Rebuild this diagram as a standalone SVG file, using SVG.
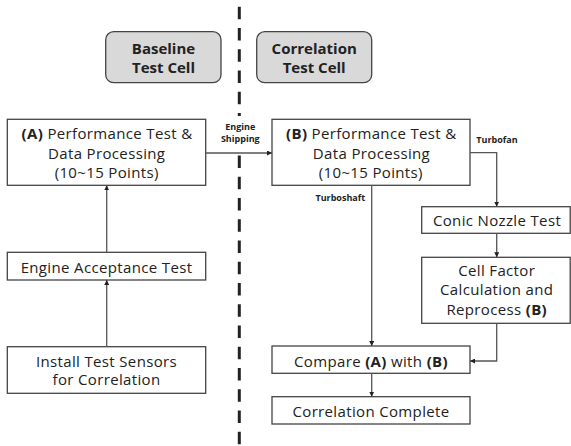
<svg xmlns="http://www.w3.org/2000/svg" width="571" height="446" viewBox="0 0 571 446">
<style>
.box{fill:#fff;stroke:#444;stroke-width:1.3}
.hdr{fill:#d9d9d9;stroke:#444;stroke-width:1.3}
.t{font-family:"Open Sans","Noto Sans",sans-serif;font-size:15px;letter-spacing:0.35px;fill:#222;text-anchor:middle}
.h{font-family:"Open Sans","Noto Sans",sans-serif;font-size:15px;font-weight:bold;fill:#222;text-anchor:middle}
.s{font-family:"Open Sans","Noto Sans",sans-serif;font-size:9px;font-weight:bold;fill:#222;text-anchor:middle}
.b{font-weight:bold}
.c{fill:none;stroke:#555;stroke-width:1.3}
</style>
<defs>
<marker id="ah" viewBox="0 0 10 10" refX="10" refY="5" markerWidth="5" markerHeight="5" markerUnits="userSpaceOnUse" orient="auto">
<path d="M0,0 L10,5 L0,10 Z" fill="#222"/>
</marker>
</defs>
<rect width="571" height="446" fill="#fff"/>
<g id="divider">
<line x1="239.3" y1="6.7" x2="239.3" y2="116" stroke="#222" stroke-width="3" stroke-dasharray="12.5 8.75"/>
<line x1="239.3" y1="155.45" x2="239.3" y2="445" stroke="#222" stroke-width="3" stroke-dasharray="12.5 8.75"/>
</g>
<g id="baseline-cell">
<rect class="hdr" x="105.7" y="31.7" width="115.3" height="51" rx="8"/>
<text class="h" x="163.5" y="54">Baseline</text>
<text class="h" x="163.5" y="72.7">Test Cell</text>
</g>
<g id="correlation-cell">
<rect class="hdr" x="256.7" y="31.7" width="115" height="51" rx="8"/>
<text class="h" x="314.2" y="54">Correlation</text>
<text class="h" x="314.2" y="72.7">Test Cell</text>
</g>
<g id="perfA">
<rect class="box" x="7.3" y="119.3" width="198.4" height="66"/>
<text class="t" x="107" y="139"><tspan class="b">(A)</tspan> Performance Test &amp;</text>
<text class="t" x="106.7" y="159">Data Processing</text>
<text class="t" x="106.7" y="178">(10~15 Points)</text>
</g>
<g id="acceptance">
<rect class="box" x="7.3" y="252.3" width="198.4" height="27.7"/>
<text class="t" x="106.5" y="272.7">Engine Acceptance Test</text>
</g>
<g id="install">
<rect class="box" x="7.3" y="346.7" width="198.4" height="46.6"/>
<text class="t" x="106.5" y="366.7">Install Test Sensors</text>
<text class="t" x="106.5" y="385">for Correlation</text>
</g>
<g id="perfB">
<rect class="box" x="272" y="119.3" width="198" height="66"/>
<text class="t" x="371.3" y="139"><tspan class="b">(B)</tspan> Performance Test &amp;</text>
<text class="t" x="371.5" y="159">Data Processing</text>
<text class="t" x="370.8" y="178">(10~15 Points)</text>
</g>
<g id="conic">
<rect class="box" x="421.7" y="206.7" width="148.5" height="26.6"/>
<text class="t" x="497" y="226">Conic Nozzle Test</text>
</g>
<g id="cellfactor">
<rect class="box" x="421.7" y="257.3" width="148.5" height="66"/>
<text class="t" x="496.7" y="276">Cell Factor</text>
<text class="t" x="496.7" y="295">Calculation and</text>
<text class="t" x="496.7" y="315">Reprocess <tspan class="b">(B)</tspan></text>
</g>
<g id="compare">
<rect class="box" x="272" y="346" width="198" height="27.3"/>
<text class="t" x="371" y="366.7">Compare <tspan class="b">(A)</tspan> with <tspan class="b">(B)</tspan></text>
</g>
<g id="complete">
<rect class="box" x="272" y="396.7" width="198" height="27.3"/>
<text class="t" x="371" y="416.7">Correlation Complete</text>
</g>
<g id="connectors">
<line class="c" x1="106.7" y1="346.7" x2="106.7" y2="280" marker-end="url(#ah)"/>
<line class="c" x1="106.7" y1="252.3" x2="106.7" y2="185.3" marker-end="url(#ah)"/>
<line class="c" x1="205.7" y1="153" x2="272" y2="153" marker-end="url(#ah)"/>
<polyline class="c" points="470,152.7 496.7,152.7 496.7,206.7" marker-end="url(#ah)"/>
<line class="c" x1="496.7" y1="233.3" x2="496.7" y2="257.3" marker-end="url(#ah)"/>
<polyline class="c" points="496.7,323.3 496.7,361 470,361" marker-end="url(#ah)"/>
<line class="c" x1="371.7" y1="185.3" x2="371.7" y2="346" marker-end="url(#ah)"/>
<line class="c" x1="371.7" y1="373.3" x2="371.7" y2="396.7" marker-end="url(#ah)"/>
<text class="s" x="240.3" y="130">Engine</text>
<text class="s" x="240.3" y="141.7">Shipping</text>
<text class="s" x="497" y="142.7">Turbofan</text>
<text class="s" x="340.3" y="200.7">Turboshaft</text>
</g>
</svg>
